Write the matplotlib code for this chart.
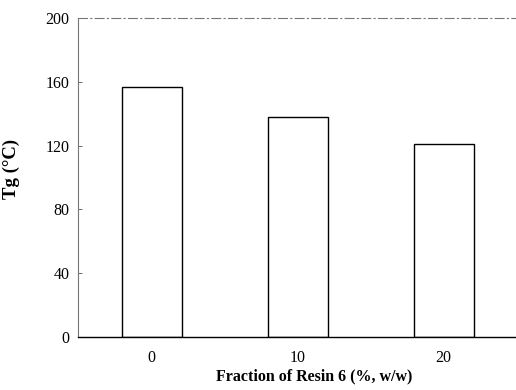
import matplotlib
matplotlib.use('Agg')
import matplotlib.pyplot as plt

fractions = ['0', '10', '20']
tg_values = [156.5, 138.0, 121.0]

plt.rcParams['font.family'] = ['Liberation Serif', 'DejaVu Serif']

fig = plt.figure(figsize=(5.16, 3.90), dpi=100)
ax = fig.add_axes([78 / 516, 53 / 390, 438 / 516, 319 / 390])

x = [i + 0.005 for i in range(len(fractions))]
ax.bar(x, tg_values, width=0.41, color='white', edgecolor='black', linewidth=1.0)

ax.set_xlim(-0.5, 2.5)
ax.set_ylim(0, 200)
ax.set_yticks([0, 40, 80, 120, 160, 200])
ax.set_xticks(x)
ax.set_xticklabels(fractions)

ax.tick_params(axis='y', direction='in', length=3, width=0.6, color='#555555',
               labelsize=11.5, pad=6)
ax.tick_params(axis='x', length=0, labelsize=11.5, pad=9)

ax.spines['right'].set_visible(False)
ax.spines['top'].set_linestyle((0, (8, 3, 1, 3)))
ax.spines['top'].set_color('#777777')
ax.spines['top'].set_linewidth(0.8)
ax.spines['left'].set_color('#777777')
ax.spines['left'].set_linewidth(0.8)
ax.spines['bottom'].set_color('black')
ax.spines['bottom'].set_linewidth(1.0)

ax.set_xlabel('Fraction of Resin 6 (%, w/w)', fontsize=11.5, fontweight='bold')
ax.xaxis.set_label_coords(0.54, -0.097)
ax.set_ylabel('Tg (°C)', fontsize=13.5, fontweight='bold')
ax.yaxis.set_label_coords(-0.132, 0.527)

fig.savefig('out.png', dpi=100)
